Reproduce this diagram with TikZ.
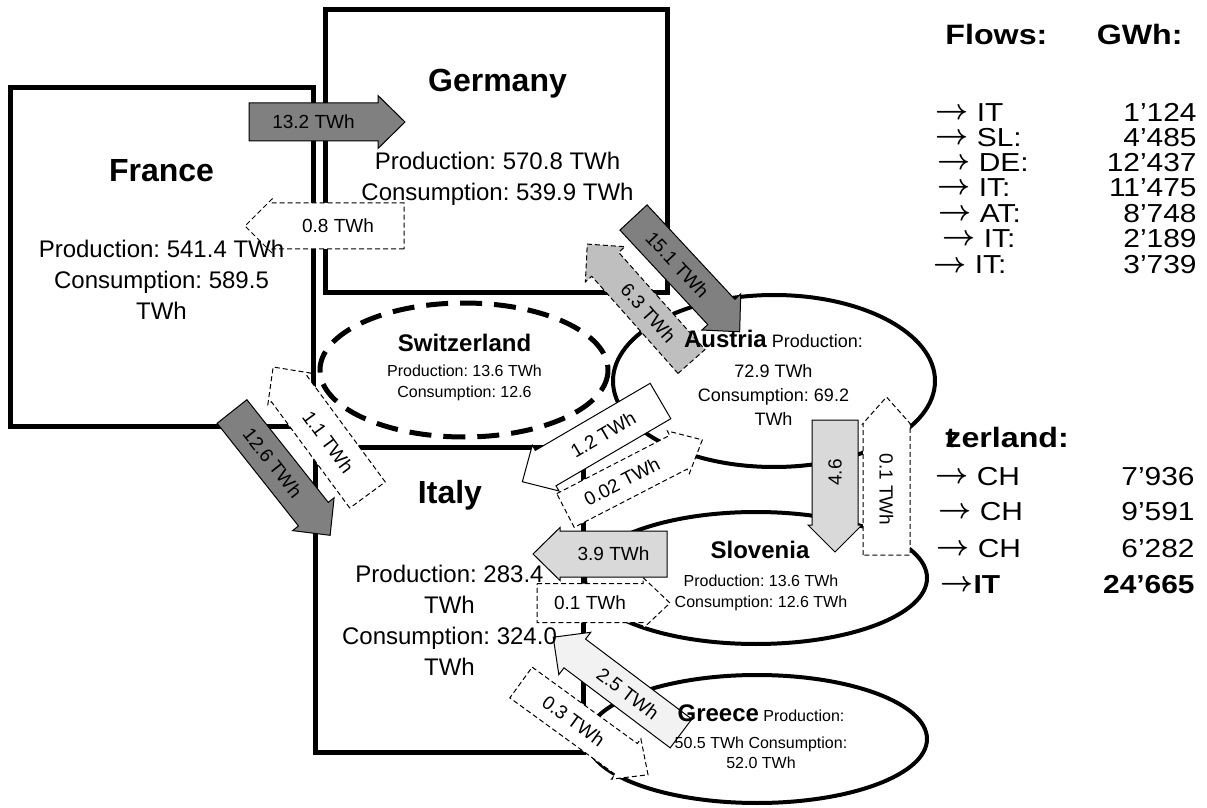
\documentclass[tikz,border=0pt]{standalone}
\usepackage{fontspec}
\usepackage{bm}
\setmainfont{Liberation Sans}
\newfontfamily\tablefont[FakeStretch=1.15]{Liberation Sans}
\frenchspacing

\definecolor{flowdark}{HTML}{808080}
\definecolor{flowmid}{HTML}{BFBFBF}
\definecolor{flowlight}{HTML}{D9D9D9}
\definecolor{flowpale}{HTML}{F2F2F2}

\tikzset{
  border/.style={line width=2.5pt},
  rim/.style={line width=2pt},
  solidflow/.style={draw=black, line width=0.5pt},
  dashflow/.style={draw=black, line width=0.5pt, dash pattern=on 2.5pt off 1.5pt, fill=white},
  flowlabel/.style={font=\fontsize{9.5}{11}\selectfont, inner sep=0pt},
  countryname/.style={font=\fontsize{16}{19}\selectfont\bfseries, inner sep=0pt},
  countrytext/.style={font=\fontsize{12}{15.5}\selectfont, align=center, inner sep=0pt},
  smallname/.style={font=\fontsize{12}{14}\selectfont\bfseries, inner sep=0pt},
  smalltext/.style={font=\fontsize{8}{10.5}\selectfont, align=center, inner sep=0pt},
  tablehead/.style={font=\tablefont\fontsize{14}{17}\selectfont\bfseries, inner sep=0pt},
  tabletext/.style={font=\tablefont\fontsize{13}{16}\selectfont, inner sep=0pt}
}

\newcommand{\toarrow}{\raisebox{1pt}{\fontsize{15}{16}\selectfont$\bm{\rightarrow}$}}

% block arrow: style, tail, angle, length, half body, half head, name, label, label angle
\newcommand{\flowarrow}[9]{%
  \begin{scope}[shift={#2}, rotate=#3]
    \draw[#1] (0,-#5) -- ({#4-27},-#5) -- ({#4-27},-#6) -- (#4,0)
      -- ({#4-27},#6) -- ({#4-27},#5) -- (0,#5) -- cycle;
    \node[flowlabel, rotate=#9] (#7) at ({(#4-27)/2},0) {#8};
  \end{scope}}

\begin{document}
\begin{tikzpicture}[x=0.5pt, y=-0.5pt]
    \useasboundingbox (0,0) rectangle (1207,808);

    % Countries
    \draw[border] (10,88) rectangle (313,426);
    \draw[border] (325,10) rectangle (667,293);
    \draw[border] (315,447) rectangle (583,752);
    \draw[border, dash pattern=on 11pt off 6pt] (464,370) ellipse [x radius=144, y radius=67];
    \draw[rim] (774,381) ellipse [x radius=161, y radius=86];
    \draw[rim] (756,578) ellipse [x radius=171, y radius=66];
    \draw[rim] (757,739) ellipse [x radius=170, y radius=64];

    % Flows
    \flowarrow{solidflow, fill=flowdark}{(249,122)}{0}{156}{19}{26.5}{frde}{13.2 TWh}{0}
    \flowarrow{dashflow}{(404,226)}{180}{159}{23}{27}{defr}{0.8 TWh}{0}
    \flowarrow{solidflow, fill=flowdark}{(633.5,217.5)}{-47.1}{156}{18.5}{26.5}{deat}{15.1 TWh}{-47.1}
    \flowarrow{dashflow, fill=flowmid}{(691.5,361.5)}{131.6}{157}{18}{26.5}{atde}{6.3 TWh}{-48.4}
    \flowarrow{solidflow, fill=flowdark}{(232,411.5)}{-51.6}{158}{19}{26.5}{frit}{12.6 TWh}{-51.6}
    \flowarrow{dashflow}{(367.5,495)}{126.4}{159}{22}{26.5}{itfr}{1.1 TWh}{-53.6}
    \flowarrow{solidflow, fill=white}{(660.5,401)}{210.3}{160}{20.5}{26.5}{atit}{1.2 TWh}{30.3}
    \flowarrow{dashflow}{(565.5,510.5)}{27.3}{154}{19}{24}{itat}{0.02 TWh}{27.3}
    \flowarrow{solidflow, fill=flowlight}{(835,420)}{-90}{132}{23}{27}{atsl}{4.6}{90}
    \flowarrow{dashflow}{(886.5,555)}{90}{158}{23.5}{24}{slat}{0.1 TWh}{-90}
    \flowarrow{solidflow, fill=flowlight}{(667,554)}{180}{134}{23}{26.5}{slit}{3.9 TWh}{0}
    \flowarrow{dashflow}{(537,603)}{0}{133}{19.5}{25.5}{itsl}{0.1 TWh}{0}
    \flowarrow{solidflow, fill=flowpale}{(681,733.5)}{143}{160}{18}{26.5}{grit}{2.5 TWh}{-37}
    \flowarrow{dashflow}{(521,682.5)}{-36}{157}{19}{25}{itgr}{0.3 TWh}{-36}

    % Country texts
    \node[countryname, anchor=base] (franceName) at (161.5,182) {France};
    \node[countrytext, anchor=north] (franceData) at (161.5,240) {Production: 541.4 TWh\\Consumption: 589.5\\TWh};
    \node[countryname, anchor=base] (germanyName) at (497.5,92) {Germany};
    \node[countrytext, anchor=north] (germanyData) at (497.5,152) {Production: 570.8 TWh\\Consumption: 539.9 TWh};
    \node[countryname, anchor=base] (italyName) at (450,503) {Italy};
    \node[countrytext, anchor=north] (italyData) at (449.5,565) {Production: 283.4\\TWh\\Consumption: 324.0\\TWh};
    \node[smallname, anchor=base] (swissName) at (464.5,351) {Switzerland};
    \node[smalltext, anchor=north] (swissData) at (464.5,364.5) {Production: 13.6 TWh\\Consumption: 12.6};
    \node[font=\fontsize{9}{12}\selectfont, inner sep=0pt, anchor=base] (austriaName) at (773.5,348) {{\fontsize{12}{14}\selectfont\bfseries Austria} Production:};
    \node[font=\fontsize{9}{12}\selectfont, align=center, inner sep=0pt, anchor=north] (austriaData) at (773.5,364) {72.9 TWh\\Consumption: 69.2\\TWh};
    \node[smallname, anchor=base] (sloveniaName) at (760,558) {Slovenia};
    \node[smalltext, anchor=north] (sloveniaData) at (761,574.5) {Production: 13.6 TWh\\Consumption: 12.6 TWh};
    \node[font=\fontsize{8}{10}\selectfont, inner sep=0pt, anchor=base] (greeceName) at (761,721) {{\fontsize{12}{14}\selectfont\bfseries Greece} Production:};
    \node[font=\fontsize{8}{10}\selectfont, align=center, inner sep=0pt, anchor=north] (greeceData) at (761,736.5) {50.5 TWh Consumption:\\52.0 TWh};

    % Table
    \node[tablehead, anchor=base west] (flowsHead) at (945,45) {Flows:};
    \node[tablehead, anchor=base east] (gwhHead) at (1183,45) {GWh:};
    \node[tabletext, anchor=base west] (dest1) at (935,122) {\toarrow{} IT};
    \node[tabletext, anchor=base east] (gwh1) at (1197,122) {1’124};
    \node[tabletext, anchor=base west] (dest2) at (935,147) {\toarrow{} SL:};
    \node[tabletext, anchor=base east] (gwh2) at (1197,147) {4’485};
    \node[tabletext, anchor=base west] (dest3) at (937,172) {\toarrow{} DE:};
    \node[tabletext, anchor=base east] (gwh3) at (1197,172) {12’437};
    \node[tabletext, anchor=base west] (dest4) at (937,197) {\toarrow{} IT:};
    \node[tabletext, anchor=base east] (gwh4) at (1197,197) {11’475};
    \node[tabletext, anchor=base west] (dest5) at (938,223) {\toarrow{} AT:};
    \node[tabletext, anchor=base east] (gwh5) at (1197,223) {8’748};
    \node[tabletext, anchor=base west] (dest6) at (942,248) {\toarrow{} IT:};
    \node[tabletext, anchor=base east] (gwh6) at (1197,248) {2’189};
    \node[tabletext, anchor=base west] (dest7) at (933,274) {\toarrow{} IT:};
    \node[tabletext, anchor=base east] (gwh7) at (1197,274) {3’739};

    \node[tablehead, anchor=base west] (swissHead) at (945,447) {\rlap{t}zerland:};
    \node[tabletext, anchor=base west] (dest8) at (935,485) {\toarrow{} CH};
    \node[tabletext, anchor=base east] (gwh8) at (1195,485) {7’936};
    \node[tabletext, anchor=base west] (dest9) at (938,520) {\toarrow{} CH};
    \node[tabletext, anchor=base east] (gwh9) at (1195,520) {9’591};
    \node[tabletext, anchor=base west] (dest10) at (936,557) {\toarrow{} CH};
    \node[tabletext, anchor=base east] (gwh10) at (1195,557) {6’282};
    \node[tabletext, anchor=base west] (dest11) at (940,593) {\bfseries\toarrow{}IT};
    \node[tabletext, anchor=base east] (gwh11) at (1195,593) {\bfseries 24’665};
\end{tikzpicture}
\end{document}
